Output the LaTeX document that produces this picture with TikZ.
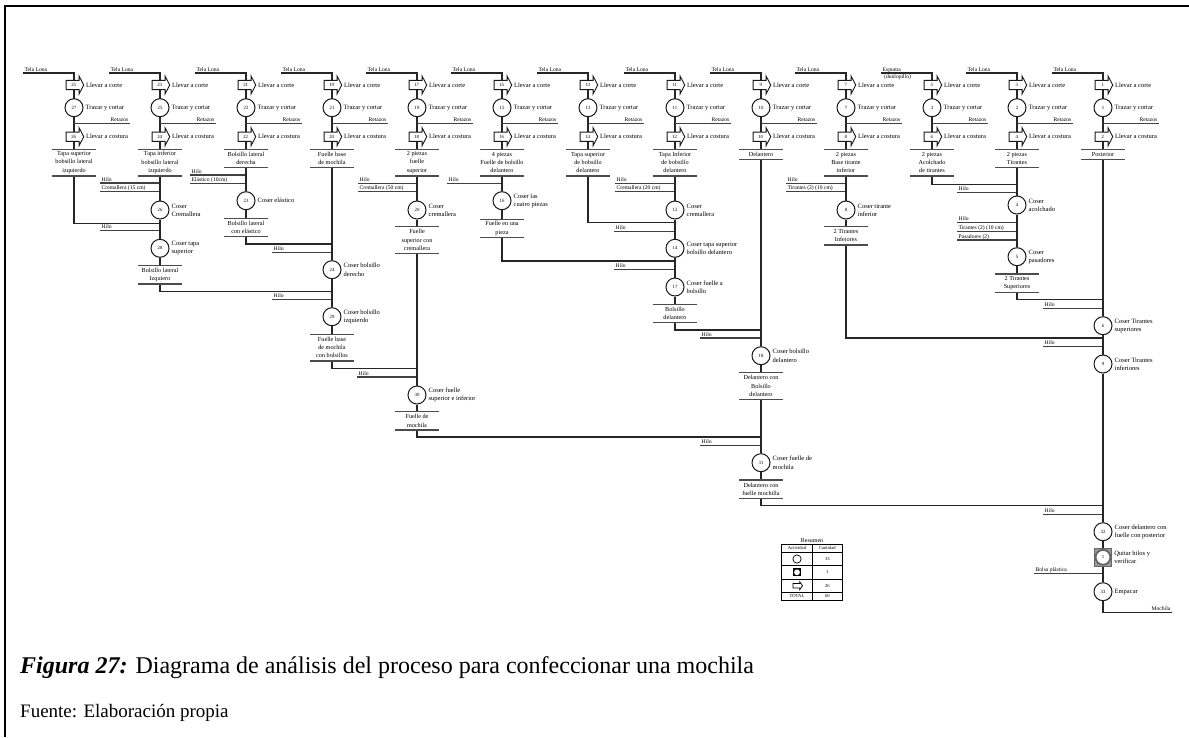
\documentclass[tikz,border=0pt]{standalone}
\usepackage{fontspec}
\setmainfont{Liberation Serif}
\usetikzlibrary{shapes.arrows}
\pgfdeclarelayer{background}
\pgfsetlayers{background,main}

\newcommand\lblfont{\fontsize{6.5}{8.2}\selectfont}
\newcommand\boxfont{\fontsize{6.2}{8.2}\selectfont}
\newcommand\feedfont{\fontsize{5.6}{6.5}\selectfont}
\newcommand\numfont{\fontsize{4.8}{5.5}\selectfont}

\tikzset{
  flow/.style={line width=1.1pt, black!85},
  feedline/.style={line width=1.1pt, black!75},
  boxline/.style={line width=1.4pt, black!70},
  op/.style={circle, draw=black!90, line width=1pt, fill=white,
    minimum size=18pt, inner sep=0pt, font=\numfont},
  move/.style={single arrow, draw=black!90, line width=0.9pt, fill=white,
    anchor=tail, minimum height=17.6pt, single arrow head extend=4.2pt,
    single arrow tip angle=125, single arrow head indent=0pt,
    inner xsep=1pt, inner ysep=2.5pt, text height=3.4pt, text depth=0pt,
    font=\numfont},
  insp/.style={rectangle, minimum size=17.5pt, inner sep=0pt,
    fill=black!40, draw=black!60, line width=0.6pt, font=\numfont,
    path picture={\draw[line width=1.8pt, fill=white]
      (path picture bounding box.center) circle (7.4pt);}},
  oplbl/.style={font=\lblfont, align=left, inner sep=1pt},
  mvlbl/.style={font=\lblfont, align=left, inner sep=0.6pt},
  feedlbl/.style={anchor=south west, font=\feedfont, inner xsep=1.5pt,
    inner ysep=0.8pt, text depth=1pt},
  outbox/.style={anchor=north, align=center, font=\boxfont,
    minimum width=44pt, inner xsep=0pt, inner ysep=0pt},
  tbl/.style={font=\fontsize{4.6}{5}\selectfont, inner sep=0pt},
  label distance=1pt,
}

% result of a step: text between two rules
\newcommand\outp[5]{%
  \node[outbox, minimum height={8.2*#4+1.5}] (#1) at (#2,#3) {#5};
  \draw[boxline] (#1.north west) -- (#1.north east)
                 (#1.south west) -- (#1.south east);
}
% material entering a line from the left
\newcommand\feed[5]{%
  \node[feedlbl] (#1) at (#2,#3) {#5};
  \coordinate (#1j) at (#4,#3);
  \begin{pgfonlayer}{background}
    \draw[feedline] (#1.south west) -- (#1j);
  \end{pgfonlayer}
}
% cutting sequence at the head of every column
% #1 key, #2 x, #3/#4/#5 step numbers, #6 text lines, #7 result, #8 material
\newcommand\coltop[8]{%
  \node[feedlbl] (in-#1) at ({#2-51},73) {#8};
  \coordinate (tp-#1) at (#2,73);
  \node[move, label={[mvlbl]east:Llevar a corte}] (ta-#1) at ({#2-8.3},85) {#3};
  \node[op, label={[oplbl]east:Trazar y cortar}] (ob-#1) at (#2,107.7) {#4};
  \node[move, label={[mvlbl]east:Llevar a costura}] (tc-#1) at ({#2-8.3},136.7) {#5};
  \node[feedlbl, anchor=south east] (rz-#1) at ({#2+56},123.3) {Retazos};
  \coordinate (rzj-#1) at (#2,123.3);
  \outp{out-#1}{#2}{149.3}{#6}{#7}
  \begin{pgfonlayer}{background}
    \draw[flow] (in-#1.south west) -- (tp-#1) -- (out-#1.north);
    \draw[feedline] (rzj-#1) -- (rz-#1.south east);
  \end{pgfonlayer}
}

\begin{document}
\begin{tikzpicture}[x=1pt,y=-1pt]
\useasboundingbox (0,0) rectangle (1189,737);
\draw[line width=2pt] (4.5,737) -- (4.5,6) -- (1189,6);

% ---------- heads of the columns ----------
\coltop{c1}{74}{25}{27}{26}{3}{Tapa superior\\bobsillo lateral\\izquierdo}{Tela Lona}
\coltop{c2}{160}{23}{25}{24}{3}{Tapa inferior\\bobsillo lateral\\izquierdo}{Tela Lona}
\coltop{c3}{246}{21}{22}{22}{2}{Bolsillo lateral\\derecha}{Tela Lona}
\coltop{c4}{332}{19}{21}{20}{2}{Fuelle base\\de mochila}{Tela Lona}
\coltop{c5}{417}{17}{19}{18}{3}{2 piezas\\fuelle\\superior}{Tela Lona}
\coltop{c6}{502}{15}{15}{16}{3}{4 piezas\\Fuelle de bolsillo\\delantero}{Tela Lona}
\coltop{c7}{588}{13}{13}{14}{3}{Tapa superior\\de bobsillo\\delantero}{Tela Lona}
\coltop{c8}{675}{11}{11}{12}{3}{Tapa Inferior\\de bobsillo\\delantero}{Tela Lona}
\coltop{c9}{761}{9}{10}{10}{1}{Delantero}{Tela Lona}
\coltop{c10}{846}{7}{7}{8}{3}{2 piezas\\Base tirante\\inferior}{Tela Lona}
\coltop{c11}{932}{5}{3}{6}{3}{2 piezas\\Acolchado\\de tirantes}{Espuma}
\coltop{c12}{1017}{3}{2}{4}{2}{2 piezas\\Tirantes}{Tela Lona}
\coltop{c13}{1103}{1}{1}{2}{1}{Posterior}{Tela Lona}
\node[feedlbl, anchor=north west, inner ysep=0.5pt] (dun) at (882.5,73.5) {(dunlopillo)};

% ---------- left side pocket ----------
\feed{f2a}{100}{183}{160}{Hilo}
\feed{f2b}{100}{191.7}{160}{Cremallera (15 cm)}
\node[op, label={[oplbl]east:Coser\\Cremallera}] (o26) at (160,210) {26};
\coordinate (j1) at (160,223.3);
\feed{f2c}{100}{230.7}{160}{Hilo}
\node[op, label={[oplbl]east:Coser tapa\\superior}] (o28) at (160,248.3) {28};
\outp{b28}{160}{265.7}{2}{Bolsillo lateral\\Izquiero}

% ---------- right side pocket ----------
\feed{f3a}{190}{175}{246}{Hilo}
\feed{f3b}{190}{183.3}{246}{Elástico (10cm)}
\node[op, label={[oplbl]east:Coser elástico}] (o23) at (246,200.7) {23};
\outp{b23}{246}{218.3}{2}{Bolsillo lateral\\con elástico}

% ---------- base gusset ----------
\coordinate (j2) at (332,244);
\feed{f4a}{272}{252.7}{332}{Hilo}
\node[op, label={[oplbl]east:Coser bolsillo\\derecho}] (o24) at (332,269.7) {24};
\coordinate (j3) at (332,291.3);
\feed{f4b}{272}{299.7}{332}{Hilo}
\node[op, label={[oplbl]east:Coser bolsillo\\izquierdo}] (o29) at (332,316.7) {29};
\outp{b29}{332}{334.3}{3}{Fuelle base\\de mochila\\con bolsillos}

% ---------- upper gusset ----------
\feed{f5a}{358}{183.3}{417}{Hilo}
\feed{f5b}{358}{191.7}{417}{Cremallera (50 cm)}
\node[op, label={[oplbl]east:Coser\\cremallera}] (o20) at (417,210) {20};
\outp{b20}{417}{226.7}{3}{Fuelle\\superior con\\cremallera}
\coordinate (j4) at (417,368.7);
\feed{f5c}{357}{377}{417}{Hilo}
\node[op, label={[oplbl]east:Coser fuelle\\superior e inferior}] (o30) at (417,395) {30};
\outp{b30}{417}{411.7}{2}{Fuelle de\\mochila}

% ---------- front pocket gusset ----------
\feed{f6a}{447}{183.3}{502}{Hilo}
\node[op, label={[oplbl]east:Coser las\\cuatro piezas}] (o16) at (502,200.7) {16};
\outp{b16}{502}{219.3}{2}{Fuelle en una\\pieza}

% ---------- front pocket ----------
\feed{f8a}{615}{183.3}{675}{Hilo}
\feed{f8b}{615}{191.7}{675}{Cremallera (20 cm)}
\node[op, label={[oplbl]east:Coser\\cremallera}] (o12) at (675,210) {12};
\coordinate (j7) at (675,222.7);
\feed{f8c}{614}{231.3}{675}{Hilo}
\node[op, label={[oplbl]east:Coser tapa superior\\bolsillo delantero}] (o14) at (675,248.3) {14};
\coordinate (j6) at (675,261);
\feed{f8d}{614}{269.7}{675}{Hilo}
\node[op, label={[oplbl]east:Coser fuelle a\\bolsillo}] (o17) at (675,287) {17};
\outp{b17}{675}{304.3}{2}{Bolsillo\\delantero}

% ---------- front panel ----------
\coordinate (j8) at (761,330);
\feed{f9a}{700}{338}{761}{Hilo}
\node[op, label={[oplbl]east:Coser bolsillo\\delantero}] (o18) at (761,355.7) {18};
\outp{b18}{761}{372.7}{3}{Delantero con\\Bolsillo\\delantero}
\coordinate (j5) at (761,437);
\feed{f9b}{700}{445.7}{761}{Hilo}
\node[op, label={[oplbl]east:Coser fuelle de\\mochila}] (o31) at (761,462.7) {31};
\outp{b31}{761}{480}{2}{Delantero con\\fuelle mochilla}

% ---------- lower straps ----------
\feed{f10a}{786}{183.3}{846}{Hilo}
\feed{f10b}{786}{191.7}{846}{Tirantes (2) (10 cm)}
\node[op, label={[oplbl]east:Coser tirante\\inferior}] (o8) at (846,210) {8};
\outp{b8}{846}{226.7}{2}{2 Tirantes\\Infeiores}

% ---------- upper straps ----------
\coordinate (j11) at (1017,184.3);
\feed{f12a}{957}{192.3}{1017}{Hilo}
\node[op, label={[oplbl]east:Coser\\acolchado}] (o4) at (1017,205) {4};
\feed{f12b}{957}{222.3}{1017}{Hilo}
\feed{f12c}{957}{231.3}{1017}{Tirantes (2) (10 cm)}
\feed{f12d}{957}{240}{1017}{Pasadores (2)}
\node[op, label={[oplbl]east:Coser\\pasadores}] (o5) at (1017,256.7) {5};
\outp{b5}{1017}{274}{2}{2 Tirantes\\Superiores}

% ---------- back panel and assembly ----------
\coordinate (j12) at (1103,299.7);
\feed{f13a}{1043}{308.3}{1103}{Hilo}
\node[op, label={[oplbl]east:Coser Tirantes\\superiores}] (o6) at (1103,325.7) {6};
\coordinate (j10) at (1103,338);
\feed{f13b}{1043}{346.7}{1103}{Hilo}
\node[op, label={[oplbl]east:Coser Tirantes\\inferiores}] (o9) at (1103,364) {9};
\coordinate (j9) at (1103,505.7);
\feed{f13c}{1043}{514.3}{1103}{Hilo}
\node[op, label={[oplbl]east:Coser delantero con\\fuelle con posterior}] (o32) at (1103,531.7) {32};
\node[insp, label={[oplbl]east:Quitar hilos y\\verificar}] (i1) at (1103,557.3) {1};
\feed{f13d}{1034}{573.3}{1103}{Bolsa plástica}
\node[op, label={[oplbl]east:Empacar}] (o33) at (1103,591.7) {33};
\coordinate (fc) at (1103,612.3);
\node[feedlbl, anchor=south east] (fin) at (1172,612.3) {Mochila};

% ---------- flow lines ----------
\begin{pgfonlayer}{background}
  \draw[flow] (out-c1.south) |- (j1);
  \draw[flow] (out-c2.south) -- (o26) -- (o28) -- (b28.north);
  \draw[flow] (b28.south) |- (j3);
  \draw[flow] (out-c3.south) -- (o23) -- (b23.north);
  \draw[flow] (b23.south) |- (j2);
  \draw[flow] (out-c4.south) -- (o24) -- (o29) -- (b29.north);
  \draw[flow] (b29.south) |- (j4);
  \draw[flow] (out-c5.south) -- (o20) -- (b20.north);
  \draw[flow] (b20.south) -- (o30) -- (b30.north);
  \draw[flow] (b30.south) |- (j5);
  \draw[flow] (out-c6.south) -- (o16) -- (b16.north);
  \draw[flow] (b16.south) |- (j6);
  \draw[flow] (out-c7.south) |- (j7);
  \draw[flow] (out-c8.south) -- (o12) -- (o14) -- (o17) -- (b17.north);
  \draw[flow] (b17.south) |- (j8);
  \draw[flow] (out-c9.south) -- (o18) -- (b18.north);
  \draw[flow] (b18.south) -- (o31) -- (b31.north);
  \draw[flow] (b31.south) |- (j9);
  \draw[flow] (out-c10.south) -- (o8) -- (b8.north);
  \draw[flow] (b8.south) |- (j10);
  \draw[flow] (out-c11.south) |- (j11);
  \draw[flow] (out-c12.south) -- (o4) -- (o5) -- (b5.north);
  \draw[flow] (b5.south) |- (j12);
  \draw[flow] (out-c13.south) -- (o6) -- (o9) -- (o32) -- (i1) -- (o33) -- (fc) -- (fin.south east);
\end{pgfonlayer}

% ---------- summary ----------
\node[font=\fontsize{6}{7}\selectfont, inner sep=0pt] (res) at (812,540.3) {Resumen};
\draw[line width=0.8pt] (781.7,544) rectangle (842.3,600);
\draw[line width=0.5pt] (781.7,552.3) -- (842.3,552.3) (781.7,565.7) -- (842.3,565.7)
  (781.7,579) -- (842.3,579) (781.7,592.3) -- (842.3,592.3) (812.3,544) -- (812.3,600);
\node[tbl] (h1) at (797,548.3) {Actividad};
\node[tbl] (h2) at (827.3,548.3) {Cantidad};
\node[circle, draw, line width=0.7pt, minimum size=8.3pt, inner sep=0pt] (s1) at (797,559) {};
\node[tbl] (n1) at (827.3,559) {33};
\node[rectangle, fill=black, minimum size=8.3pt, inner sep=0pt,
  path picture={\fill[white] (path picture bounding box.center) circle (2.9pt);}] (s2) at (797,572.3) {};
\node[tbl] (n2) at (827.3,572.3) {1};
\node[single arrow, draw, line width=0.7pt, minimum height=9.5pt, inner xsep=0pt,
  inner ysep=1.9pt, text height=0pt, text depth=0pt,
  single arrow head extend=1.7pt, single arrow tip angle=110,
  single arrow head indent=0pt] (s3) at (797,585.7) {};
\node[tbl] (n3) at (827.3,585.7) {26};
\node[tbl] (tt) at (797,596.2) {TOTAL};
\node[tbl] (n4) at (827.3,596.2) {60};

% ---------- caption ----------
\node[anchor=base west, inner sep=0pt, font=\fontsize{24}{28}\selectfont] (cap) at (20,673)
  {\textbf{\textit{Figura 27:}} Diagrama de análisis del proceso para confeccionar una mochila};
\node[anchor=base west, inner sep=0pt, font=\fontsize{19}{23}\selectfont] (src) at (20,717)
  {Fuente: Elaboración propia};
\end{tikzpicture}
\end{document}
